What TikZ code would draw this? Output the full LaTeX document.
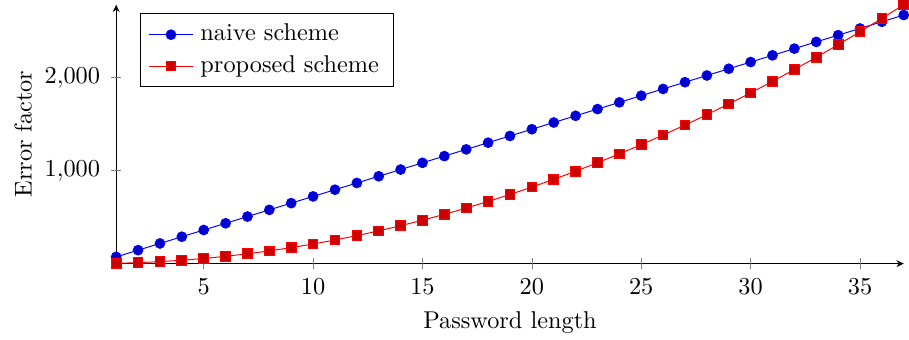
\documentclass[tikz,border=0pt]{standalone}
\usetikzlibrary{arrows.meta,plotmarks}
\begin{document}
\begin{tikzpicture}[x=0.4115pt, y=0.4115pt,
  axisline/.style={black, line width=0.4pt, -{Stealth[length=3pt,width=2.8pt]}},
  tickmark/.style={gray, very thin},
  ticklabel/.style={inner sep=0pt},
  naive/.style={blue, line width=0.4pt, mark=*, mark size=2pt, mark options={fill=blue!80!black}},
  proposed/.style={red, line width=0.4pt, mark=square*, mark size=2pt, mark options={fill=red!80!black}},
  legendbox/.style={draw=black, line width=0.4pt, fill=white, inner sep=0pt, anchor=north west},
  labeltext/.style={inner sep=0pt}
]
\useasboundingbox (0,0) rectangle (909,339);

% axes: x runs 1..37, y runs 0..2775
\coordinate (O) at (116.2,75.4);
\coordinate (xend) at (903.8,75.4);
\coordinate (yend) at (116.2,334.3);
\draw[axisline] (O) -- (xend);
\draw[axisline] (O) -- (yend);

% x ticks and labels
\foreach \t in {5,10,...,35} {
  \pgfmathsetmacro\px{116.2+(\t-1)*21.877}
  \draw[tickmark] (\px,70.2) -- (\px,80.6);
  \node[ticklabel, anchor=base] (xt\t) at (\px,45) {$\t$};
}

% y ticks and labels
\draw[tickmark] (111,168.7) -- (121.4,168.7);
\draw[tickmark] (111,262.0) -- (121.4,262.0);
\node[ticklabel, anchor=base east] (yt1) at (100.5,162.4) {$1{,}000$};
\node[ticklabel, anchor=base east] (yt2) at (100.5,255.7) {$2{,}000$};

% axis labels
\node[labeltext, anchor=base] (xlabel) at (510,11) {Password length};
\node[labeltext, rotate=90, anchor=base] (ylabel) at (31.7,205) {Error factor};

% data series
\draw[naive] plot[domain=1:37, samples=37]
  ({116.2+(\x-1)*21.877}, {75.4+0.0933*72*\x});
\draw[proposed] plot[domain=1:37, samples=37]
  ({116.2+(\x-1)*21.877}, {75.4+0.0933*(2*\x*\x+\x)});

% legend
\node[legendbox, minimum width=104.2pt, minimum height=29.9pt] (legend) at (140,325.7) {};
\coordinate (la1) at (149.3,304.3);
\coordinate (lb1) at (192.7,304.3);
\coordinate (la2) at (149.3,273);
\coordinate (lb2) at (192.7,273);
\draw[blue, line width=0.4pt] (la1) -- (lb1);
\draw[naive] plot coordinates {(171,304.3)};
\draw[red, line width=0.4pt] (la2) -- (lb2);
\draw[proposed] plot coordinates {(171,273)};
\node[labeltext, anchor=base west] (lnaive) at (200,298.3) {naive scheme};
\node[labeltext, anchor=base west] (lprop) at (200,266.3) {proposed scheme};
\end{tikzpicture}
\end{document}
